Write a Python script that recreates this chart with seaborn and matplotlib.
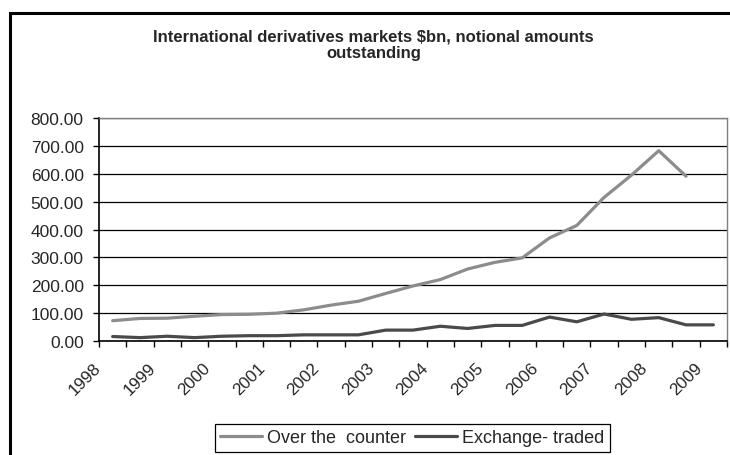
import numpy as np
import pandas as pd
import seaborn as sns
import matplotlib.pyplot as plt
from matplotlib.patches import Rectangle
from matplotlib.transforms import ScaledTranslation

# half-year observations, Jun 1998 .. Jun 2009
periods = ["Jun 1998", "Dec 1998", "Jun 1999", "Dec 1999", "Jun 2000", "Dec 2000",
           "Jun 2001", "Dec 2001", "Jun 2002", "Dec 2002", "Jun 2003", "Dec 2003",
           "Jun 2004", "Dec 2004", "Jun 2005", "Dec 2005", "Jun 2006", "Dec 2006",
           "Jun 2007", "Dec 2007", "Jun 2008", "Dec 2008", "Jun 2009"]
otc = [72, 80, 81, 88, 94, 95, 99, 111, 128, 142, 170, 197, 220, 258, 282, 298,
       370, 415, 516, 596, 684, 592, np.nan]
exchange = [15, 11, 16, 11, 16, 18, 18, 21, 21, 21, 38, 38, 52, 44, 55, 55,
            85, 68, 96, 77, 83, 57, 57]
year_labels = ["1998", "1999", "2000", "2001", "2002", "2003", "2004", "2005",
               "2006", "2007", "2008", "2009"]
series_names = ["Over the  counter", "Exchange- traded"]

sns.set_style("white")
plt.rcParams['font.family'] = ['Liberation Sans', 'DejaVu Sans']

n = len(periods)
df = pd.DataFrame({
    "pos": list(range(n)) * 2,
    "value": otc + exchange,
    "series": [series_names[0]] * n + [series_names[1]] * n,
})
df = df.dropna()

fig = plt.figure(figsize=(7.3, 4.56), dpi=100)
ax = fig.add_axes([0.1356, 0.2507, 0.8603, 0.4873])

sns.lineplot(data=df, x="pos", y="value", hue="series", hue_order=series_names,
             palette=["#8c8c8c", "#4a4a4a"], linewidth=2.3, ax=ax)

ax.set_xlim(-0.5, n - 0.5)
ax.set_ylim(0, 800)
ax.set_yticks(range(0, 801, 100))
ax.set_yticklabels([f"{v:.2f}" for v in range(0, 801, 100)], fontsize=12.5)
ax.yaxis.grid(True, color="black", linewidth=0.9)
ax.set_axisbelow(True)

# tick marks between categories, labels every other category
ax.set_xticks(np.arange(-0.5, n, 1.0))
ax.set_xticklabels([])
ax.set_xticks(range(0, n, 2), minor=True)
ax.set_xticklabels(year_labels, minor=True, fontsize=12.3, rotation=45,
                   ha="right", va="center", rotation_mode="anchor")
ax.tick_params(axis="x", which="minor", length=0, pad=17.5)
ax.tick_params(axis="x", which="major", length=4, width=1, color="black", direction="out", bottom=True)
ax.tick_params(axis="y", length=4, width=1, color="black", direction="out", left=True, pad=7)
shift = ScaledTranslation(-14 / 100, 0, fig.dpi_scale_trans)
for lab in ax.get_xticklabels(minor=True):
    lab.set_transform(lab.get_transform() + shift)

ax.set_xlabel("")
ax.set_ylabel("")
for side in ["left", "bottom"]:
    ax.spines[side].set_color("black")
    ax.spines[side].set_linewidth(1.2)
for side in ["top", "right"]:
    ax.spines[side].set_color("#808080")
    ax.spines[side].set_linewidth(1.0)

fig.text(0.512, 0.90, "International derivatives markets $bn, notional amounts\noutstanding",
         ha="center", va="center", fontsize=12, fontweight="bold", linespacing=1.15)

handles, labels = ax.get_legend_handles_labels()
ax.legend(handles, labels, loc="center", bbox_to_anchor=(0.565, 0.038),
          bbox_transform=fig.transFigure, ncol=2, frameon=True, fancybox=False,
          edgecolor="black", fontsize=13, handlelength=2.3, handletextpad=0.3,
          columnspacing=0.5, borderpad=0.3, framealpha=1)
ax.get_legend().get_frame().set_linewidth(0.9)

# chart area border (bottom and right fall outside the image)
fig.add_artist(Rectangle((10 / 730, -0.1), 1.2, (456 - 14) / 456 + 0.1, fill=False,
                         linewidth=2.2, edgecolor="black", transform=fig.transFigure))

fig.savefig("out.png", dpi=100)
